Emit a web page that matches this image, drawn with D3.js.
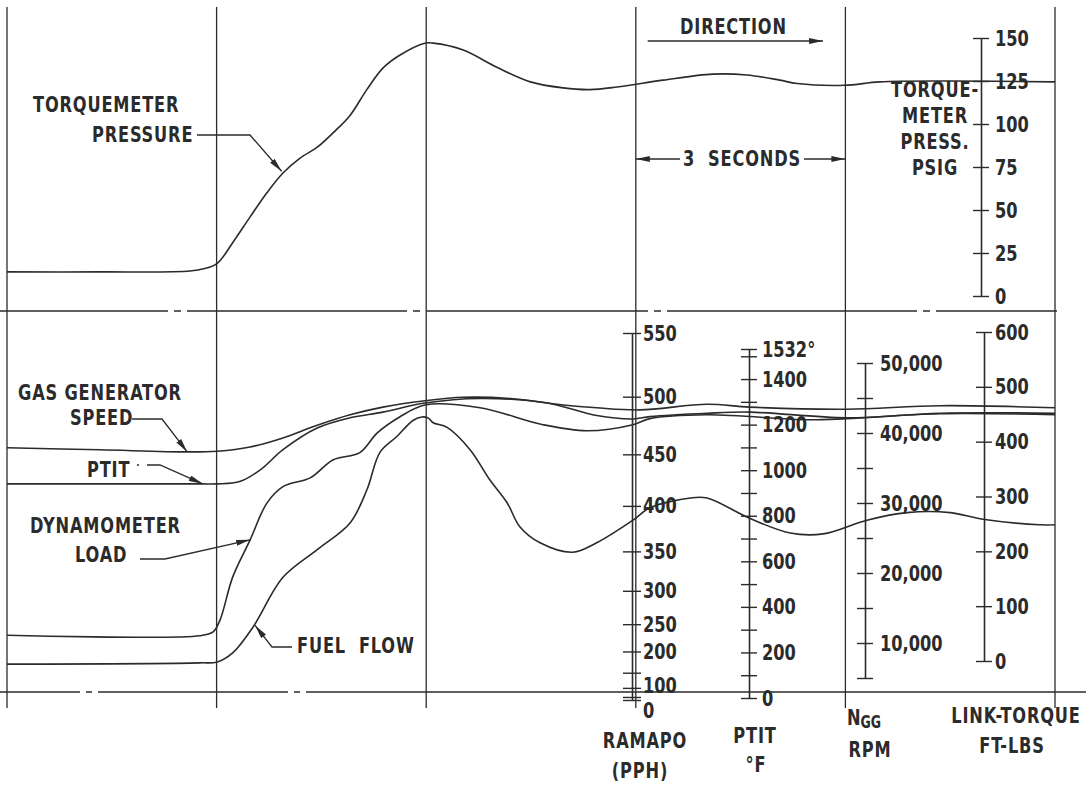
<!DOCTYPE html>
<html>
<head>
<meta charset="utf-8">
<script src="https://cdn.jsdelivr.net/npm/d3@7"></script>
<style>
  body { margin: 0; background: #fff; }
  svg text { font-family: "DejaVu Sans Condensed", "DejaVu Sans", sans-serif; font-weight: bold; fill: #2b2b2b; white-space: pre; }
</style>
</head>
<body>
<svg id="chart" width="1086" height="785"></svg>
<script>
// time of each sample, seconds (grid line every 3 s)
const gridSeconds = [0, 3, 6, 9, 12, 15];

const torqueT = [0, 1.33, 2.62, 2.83, 3.01, 3.23, 3.48, 3.72, 3.95, 4.19, 4.44, 4.67, 4.91, 5.15, 5.38, 5.62, 5.98, 6.10, 6.53, 7.01, 7.49, 7.96, 8.34, 8.73, 9.39, 10.10, 10.59, 11.06, 11.31, 11.99, 12.49, 13.5, 15];
const torquePsi = [14, 14, 14.5, 16, 19, 31, 46, 60, 71.5, 80, 86.5, 95, 105, 120, 132.5, 140, 147, 147, 143, 133, 124.5, 121, 120, 121.5, 125.5, 129, 128.5, 125.5, 123.5, 122.5, 124.5, 125, 124.5];

const nggT = [0, 1.33, 2.58, 3.01, 3.48, 3.95, 4.44, 4.91, 5.38, 5.98, 6.53, 7.24, 7.96, 8.44, 9.06, 10.02, 10.63, 12.02, 13.35, 15];
const nggRpm = [37900, 37600, 37300, 37400, 38000, 39300, 41100, 42600, 43700, 44600, 45100, 44900, 44000, 43600, 43300, 44100, 43700, 43400, 43900, 43600];

const ptitT = [0, 2.76, 3.01, 3.33, 3.62, 3.95, 4.44, 4.91, 5.38, 5.98, 6.77, 7.73, 8.44, 8.96, 9.20, 10.02, 10.63, 12.02, 13.35, 15];
const ptitF = [940, 940, 940, 950, 1000, 1090, 1185, 1230, 1255, 1295, 1315, 1295, 1240, 1225, 1235, 1250, 1255, 1230, 1250, 1250];

const dynT = [0, 2.76, 2.95, 3.05, 3.23, 3.48, 3.72, 3.95, 4.34, 4.67, 5.05, 5.30, 5.62, 5.98, 6.77, 7.67, 8.30, 8.96, 9.20, 10.02, 11.45, 12.02, 13.35, 15];
const dynFtLb = [47, 46, 53, 75, 153, 221, 288, 318, 334, 367, 380, 416, 445, 467, 462, 431, 420, 431, 442, 449, 440, 442, 451, 449];

const fuelT = [0, 2.76, 3.01, 3.23, 3.52, 3.95, 4.44, 4.91, 5.15, 5.34, 5.58, 5.81, 5.94, 6.03, 6.10, 6.30, 6.63, 6.91, 7.16, 7.34, 7.63, 8.10, 8.44, 8.96, 9.20, 9.78, 10.02, 10.63, 11.21, 11.68, 12.31, 12.88, 13.50, 13.97, 14.78, 15];
const fuelPph = [172, 175, 177, 197, 245, 318, 352, 382, 416, 452, 466, 480, 483, 482, 478, 474, 454, 426, 403, 378, 360, 349, 360, 385, 398, 408, 408, 387, 371, 370, 385, 393, 393, 386, 380, 380];

// scale ticks
const torqueTicks = [0, 25, 50, 75, 100, 125, 150];
const fuelTicks = [0, 50, 100, 150, 200, 250, 300, 350, 400, 450, 500, 550];
const ptitTicks = [0, 100, 200, 300, 400, 500, 600, 700, 800, 900, 1000, 1100, 1200, 1300, 1400, 1500, 1532];
const nggTicks = [5000, 10000, 15000, 20000, 25000, 30000, 35000, 40000, 45000, 50000];
const linkTicks = [0, 100, 200, 300, 400, 500, 600];

const ink = "#2b2b2b";
const squeeze = 0.82; // lettering in the original is condensed
const svg = d3.select("#chart");

svg.append("defs").append("marker")
  .attr("id", "head")
  .attr("viewBox", "0 0 14 6")
  .attr("refX", 14).attr("refY", 3)
  .attr("markerWidth", 14).attr("markerHeight", 6)
  .attr("markerUnits", "userSpaceOnUse")
  .attr("orient", "auto-start-reverse")
  .append("path").attr("d", "M0,0 L14,3 L0,6 Z").attr("fill", ink);

const x = d3.scaleLinear().domain([0, 15]).range([7, 1055]);
const yTorque = d3.scaleLinear().domain([0, 150]).range([296, 38]);
const yFuel = d3.scalePow().exponent(2).domain([0, 550]).range([700, 333]);
const yPtit = d3.scaleLinear().domain([0, 1532]).range([698, 349]);
const yNgg = d3.scaleLinear().domain([5000, 50000]).range([678, 363]);
const yLink = d3.scaleLinear().domain([0, 600]).range([661, 332]);

// frame: time grid and the two panel separators
svg.append("g").selectAll("line")
  .data(gridSeconds)
  .join("line")
  .attr("x1", d => x(d)).attr("x2", d => x(d))
  .attr("y1", 7).attr("y2", 708)
  .attr("stroke", ink).attr("stroke-width", 1.3);

svg.append("line")
  .attr("x1", 0).attr("x2", 1057).attr("y1", 311).attr("y2", 311)
  .attr("stroke", ink).attr("stroke-width", 1.5)
  .attr("stroke-dasharray", "168 6 7 6 220 6 7 6 222 6 7 6 250 6 7 6 400");
svg.append("line")
  .attr("x1", 0).attr("x2", 1086).attr("y1", 692).attr("y2", 692)
  .attr("stroke", ink).attr("stroke-width", 1.5)
  .attr("stroke-dasharray", "80 6 6 6 190 6 6 6 800");

function crossAxis(xPos, scale, values, fmt, half, pad) {
  const g = svg.append("g")
    .attr("transform", `translate(${xPos},0)`)
    .call(d3.axisRight(scale).tickValues(values).tickFormat(fmt)
      .tickSize(half).tickSizeOuter(0).tickPadding(pad));
  g.attr("font-size", null).attr("font-family", null);
  g.selectAll(".tick line").attr("x1", -half).attr("stroke", ink).attr("stroke-width", 1.4);
  g.select(".domain").attr("stroke", ink).attr("stroke-width", 1.6);
  g.selectAll(".tick text")
    .style("font-size", "22px").attr("fill", ink)
    .attr("x", (half + pad) / squeeze)
    .attr("transform", `scale(${squeeze},1)`);
  return g;
}

crossAxis(981, yTorque, torqueTicks, d => d, 8, 6);
const fuelAxis = crossAxis(632, yFuel, fuelTicks, d => (d === 50 || d === 150) ? "" : d, 9, 2);
fuelAxis.selectAll(".tick text").filter(d => d === 0).attr("dy", "0.8em");
fuelAxis.selectAll(".tick text").filter(d => d === 100).attr("dy", "0.2em");
crossAxis(749, yPtit, ptitTicks, d => d === 1532 ? "1532°" : (d % 200 === 0 ? d : ""), 8, 5);
crossAxis(865, yNgg, nggTicks, d => d % 10000 === 0 ? d3.format(",")(d) : "", 8, 7);
crossAxis(984, yLink, linkTicks, d => d, 8, 3);

// curves
const curve = d3.curveCatmullRom.alpha(0.5);
const series = [
  { t: torqueT, v: torquePsi, y: yTorque },
  { t: nggT, v: nggRpm, y: yNgg },
  { t: ptitT, v: ptitF, y: yPtit },
  { t: dynT, v: dynFtLb, y: yLink },
  { t: fuelT, v: fuelPph, y: yFuel }
];
series.forEach(s => {
  const line = d3.line().x(i => x(s.t[i])).y(i => s.y(s.v[i])).curve(curve);
  svg.append("path")
    .attr("d", line(d3.range(s.t.length)))
    .attr("fill", "none").attr("stroke", ink).attr("stroke-width", 1.6);
});

// text labels
function label(txt, px, py, anchor, size) {
  return svg.append("text")
    .attr("transform", `translate(${px},${py}) scale(${squeeze},1)`)
    .attr("text-anchor", anchor || "start")
    .style("font-size", (size || 22) + "px")
    .style("letter-spacing", "1px")
    .text(txt);
}
function leader(pts) {
  svg.append("path")
    .attr("d", d3.line()(pts))
    .attr("fill", "none").attr("stroke", ink).attr("stroke-width", 1.3)
    .attr("marker-end", "url(#head)");
}

label("TORQUEMETER", 33, 112);
label("PRESSURE", 92, 142);
leader([[197, 135], [250, 135], [x(3.93), yTorque(72.5)]]);

label("DIRECTION", 680, 34);
svg.append("line")
  .attr("x1", x(9.17)).attr("x2", x(11.68)).attr("y1", 41).attr("y2", 41)
  .attr("stroke", ink).attr("stroke-width", 1.3).attr("marker-end", "url(#head)");

label("3  SECONDS", 742, 166, "middle");
leader([[680, 159], [x(9), 159]]);
leader([[804, 159], [x(12), 159]]);

["TORQUE-", "METER", "PRESS.", "PSIG"].forEach((s, i) => label(s, 935, 97 + i * 26, "middle"));

label("GAS GENERATOR", 18, 400);
label("SPEED", 70, 425);
leader([[132, 419], [162, 419], [x(2.58), yNgg(37300)]]);

label("PTIT", 87, 477);
svg.append("circle").attr("cx", 138).attr("cy", 465).attr("r", 1).attr("fill", ink);
leader([[147, 465], [160, 465], [x(2.8), yPtit(940)]]);

label("DYNAMOMETER", 30, 533);
label("LOAD", 75, 562);
leader([[140, 559], [165, 559], [x(3.48), yLink(221)]]);

label("FUEL  FLOW", 297, 653);
leader([[292, 647], [272, 647], [x(3.55), yFuel(248)]]);

label("RAMAPO", 645, 748, "middle");
label("(PPH)", 640, 778, "middle");
label("PTIT", 755, 743, "middle");
label("°F", 756, 772, "middle");
const ngg = svg.append("text")
  .attr("transform", `translate(847,725) scale(${squeeze},1)`)
  .style("font-size", "22px");
ngg.append("tspan").text("N");
ngg.append("tspan").attr("dy", 3).style("font-size", "17px").text("GG");
label("RPM", 870, 757, "middle");
label("LINK-TORQUE", 1016, 723, "middle");
label("FT-LBS", 1012, 753, "middle");
</script>
</body>
</html>
